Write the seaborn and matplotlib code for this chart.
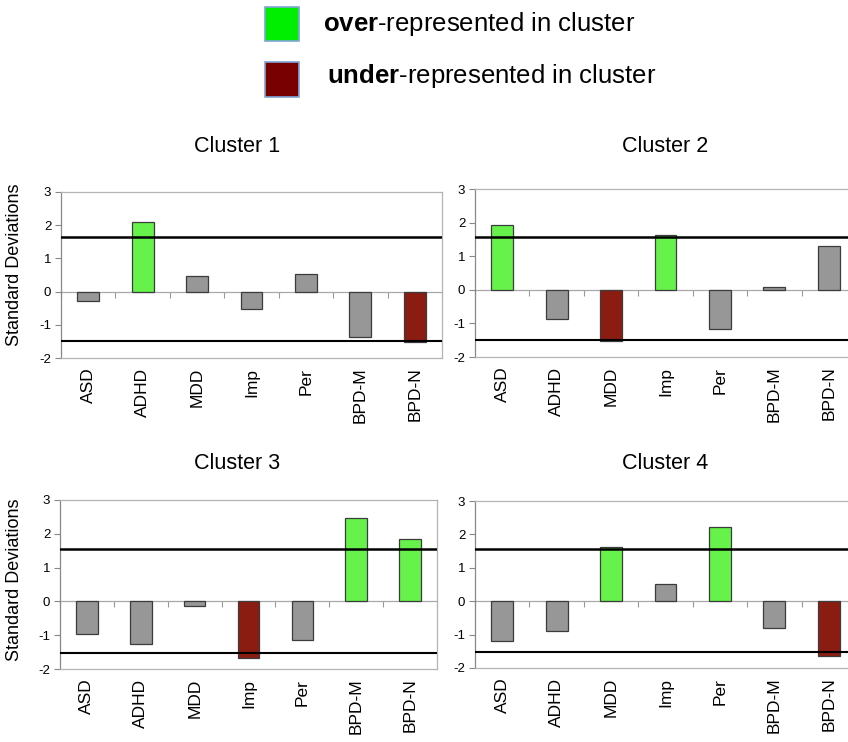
import numpy as np
import pandas as pd
import matplotlib
matplotlib.use("Agg")
import matplotlib.pyplot as plt
import seaborn as sns
from matplotlib.patches import Rectangle

# ---------------- data ----------------
categories = ["ASD", "ADHD", "MDD", "Imp", "Per", "BPD-M", "BPD-N"]
cluster_names = ["Cluster 1", "Cluster 2", "Cluster 3", "Cluster 4"]

c1_values = [-0.29, 2.10, 0.47, -0.52, 0.52, -1.38, -1.51]
c2_values = [1.92, -0.87, -1.53, 1.64, -1.16, 0.08, 1.30]
c3_values = [-0.96, -1.25, -0.15, -1.66, -1.13, 2.47, 1.86]
c4_values = [-1.20, -0.90, 1.63, 0.51, 2.21, -0.79, -1.65]

c1_status = ["none", "over", "none", "none", "none", "none", "under"]
c2_status = ["over", "none", "under", "over", "none", "none", "none"]
c3_status = ["none", "none", "none", "under", "none", "over", "over"]
c4_status = ["none", "none", "over", "none", "over", "none", "under"]

upper_lines = [1.63, 1.57, 1.55, 1.56]
lower_lines = [-1.48, -1.50, -1.52, -1.53]

y_ticks = [-2, -1, 0, 1, 2, 3]
y_label = "Standard Deviations"
legend_labels = [r"$\mathbf{over}$-represented in cluster",
                 r"$\mathbf{under}$-represented in cluster"]

all_values = [c1_values, c2_values, c3_values, c4_values]
all_status = [c1_status, c2_status, c3_status, c4_status]

# ---------------- style ----------------
sns.set_theme(style="white")
plt.rcParams["font.family"] = ["Liberation Sans", "DejaVu Sans"]
plt.rcParams["mathtext.fontset"] = "custom"
plt.rcParams["mathtext.rm"] = "Liberation Sans"
plt.rcParams["mathtext.bf"] = "Liberation Sans:bold"
plt.rcParams["text.color"] = "black"
plt.rcParams["xtick.color"] = "black"
plt.rcParams["ytick.color"] = "black"
plt.rcParams["xtick.labelcolor"] = "black"
plt.rcParams["ytick.labelcolor"] = "black"

palette = {"over": "#66F24A", "under": "#8B1C12", "none": "#979797"}
legend_colors = ["#00EE00", "#780000"]
frame_color = "#B4B4B4"

W, H = 848, 742
fig = plt.figure(figsize=(W / 100, H / 100), dpi=100)

# axes boxes in pixels: left, top, right, bottom
boxes = [(61, 192, 442, 358), (475, 189, 856, 357),
         (60, 500, 437, 669), (475, 501, 856, 668)]
title_pos = [(237, 147), (665, 147), (237, 463), (665, 463)]

for i in range(4):
    l, t, r, b = boxes[i]
    ax = fig.add_axes([l / W, 1 - b / H, (r - l) / W, (b - t) / H])
    df = pd.DataFrame({"category": categories,
                       "value": all_values[i],
                       "status": all_status[i]})
    sns.barplot(data=df, x="category", y="value", hue="status",
                order=categories, palette=palette, dodge=False,
                width=0.4, edgecolor="#3C3C3C", linewidth=0.9,
                saturation=1, legend=False, ax=ax, zorder=2)
    ax.set_xlim(-0.5, 6.5)
    ax.set_ylim(-2, 3)
    ax.set_yticks(y_ticks)
    ax.set_yticklabels([str(v) for v in y_ticks], fontsize=9.5)
    ax.tick_params(axis="y", direction="out", length=4, width=0.8,
                   color="#888888", pad=3, left=True)
    ax.tick_params(axis="x", length=0, pad=7, labelsize=12.5,
                   labelrotation=90)
    for lab in ax.get_xticklabels():
        lab.set_va("top")
        lab.set_ha("center")
    ax.set_xlabel("")
    ax.set_ylabel("")
    for s in ax.spines.values():
        s.set_color(frame_color)
        s.set_linewidth(0.9)
    ax.spines["left"].set_color("#888888")

    # zero axis with category separator ticks
    sec = ax.secondary_xaxis(2 / 5)
    sec.set_xticks(np.arange(len(categories) + 1) - 0.5)
    sec.set_xticklabels([])
    sec.tick_params(direction="out", length=4, width=0.8, color="#999999")
    sec.spines["bottom"].set_color("#A8A8A8")
    sec.spines["bottom"].set_linewidth(0.9)

    # threshold lines
    ax.axhline(upper_lines[i], color="black", lw=1.8, zorder=3)
    ax.axhline(lower_lines[i], color="black", lw=1.5, zorder=3)

    tx, ty = title_pos[i]
    fig.text(tx / W, 1 - ty / H, cluster_names[i], fontsize=15.5,
             ha="center", va="center")
    if i in (0, 2):
        cy = 265 if i == 0 else 580
        fig.text(15 / W, 1 - cy / H, y_label, fontsize=13, rotation=90,
                 ha="center", va="center")

# ---------------- legend ----------------
sq = [(265, 7, 299, 41), (265, 62, 299, 97)]
txt = [(323, 24), (327, 76)]
for k in range(2):
    x0, y0, x1, y1 = sq[k]
    fig.add_artist(Rectangle((x0 / W, 1 - y1 / H), (x1 - x0) / W, (y1 - y0) / H,
                             transform=fig.transFigure,
                             facecolor=legend_colors[k], edgecolor="#7FA6D6",
                             linewidth=1.2))
    fig.text(txt[k][0] / W, 1 - txt[k][1] / H, legend_labels[k],
             fontsize=18.5, ha="left", va="center")

fig.savefig("out.png", dpi=100)
